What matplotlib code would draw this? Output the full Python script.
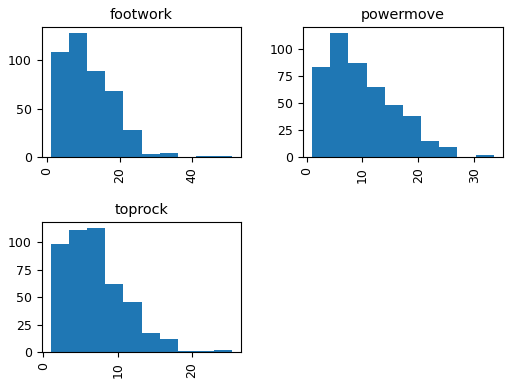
import numpy as np
import matplotlib
matplotlib.use('Agg')
import matplotlib.pyplot as plt

# ── Data (10 bins each) ───────────────────────────────────────────────────────
titles = ['footwork', 'powermove', 'toprock']

footwork_range  = (1, 51)
footwork_counts = [108, 128, 89, 68, 28, 3, 4, 0, 1, 1]

powermove_range  = (1, 33.5)
powermove_counts = [84, 115, 87, 65, 48, 38, 15, 9, 0, 2]

toprock_range  = (1, 25.4)
toprock_counts = [99, 111, 113, 62, 46, 17, 12, 1, 1, 2]

x_ticks = {
    'footwork':  [0, 20, 40],
    'powermove': [0, 10, 20, 30],
    'toprock':   [0, 10, 20],
}
y_ticks = {
    'footwork':  [0, 50, 100],
    'powermove': [0, 25, 50, 75, 100],
    'toprock':   [0, 25, 50, 75, 100],
}

series = {
    'footwork':  (footwork_range, footwork_counts),
    'powermove': (powermove_range, powermove_counts),
    'toprock':   (toprock_range, toprock_counts),
}

# ── Plot ──────────────────────────────────────────────────────────────────────
fig, axes = plt.subplots(2, 2, figsize=(5.12, 3.85), dpi=100)
fig.subplots_adjust(left=0.0814, right=0.982, top=0.930, bottom=0.0857,
                    wspace=0.309, hspace=0.50)

for ax, name in zip(axes.flat, titles):
    (lo, hi), counts = series[name]
    edges = np.linspace(lo, hi, len(counts) + 1)
    ax.hist(edges[:-1], bins=edges, weights=counts, color='#1f77b4')
    ax.set_title(name, fontsize=10.4)
    ax.set_xticks(x_ticks[name])
    ax.set_yticks(y_ticks[name])
    ax.tick_params(axis='x', labelrotation=90, labelsize=9)
    ax.tick_params(axis='y', labelsize=9)

axes[1, 1].axis('off')

plt.savefig('out.png', dpi=100)
plt.close()
